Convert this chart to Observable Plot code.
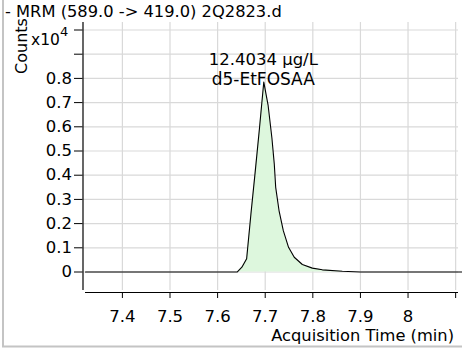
<!DOCTYPE html>
<html><head><meta charset="utf-8">
<script src="https://cdn.jsdelivr.net/npm/d3@7"></script>
<script src="https://cdn.jsdelivr.net/npm/@observablehq/plot@0.6"></script>
<style>
body{margin:0;background:#fff;}
#wrap{width:462px;height:353px;overflow:hidden;}
svg{display:block;}
</style></head><body><div id="wrap"></div>
<script>
// ---- data ----
const title = "- MRM (589.0 -> 419.0) 2Q2823.d";
const xLabel = "Acquisition Time (min)";
const yLabel = "Counts";
const yMultiplier = "x10";
const yExponent = "4";
const peakAmount = "12.4034 µg/L";
const peakName = "d5-EtFOSAA";

const times  = [7.3225, 7.62, 7.641, 7.651, 7.661, 7.670, 7.679, 7.688, 7.697, 7.706, 7.714, 7.719, 7.722, 7.729, 7.738, 7.749, 7.761, 7.778, 7.799, 7.820, 7.862, 7.90, 8.115];
const counts = [0,      0,    0,     200,   550,   2400,  4150,  5950,  7850,  6900,  5550,  4470,  3500,  2540,  1710,  1020,  610,   310,   160,   90,    30,    0,    0];

const integStart = 7.62;
const integEnd = 7.862;
const peakTime = 7.697;

const xTicks = [7.4, 7.5, 7.6, 7.7, 7.8, 7.9, 8.0, 8.1];
const xTickLabels = ["7.4", "7.5", "7.6", "7.7", "7.8", "7.9", "8", ""];
const yTicks = [0, 1000, 2000, 3000, 4000, 5000, 6000, 7000, 8000, 9000, 10000];
const yTickLabels = ["0", "0.1", "0.2", "0.3", "0.4", "0.5", "0.6", "0.7", "0.8", "", ""];

const xDomain = [7.3225, 8.106];
const yDomain = [-764, 10310];

// ---- build ----
const data = times.map((t, i) => ({t, c: counts[i]}));
const fillData = data.filter(d => d.t >= integStart && d.t <= integEnd);
const xFmt = new Map(xTicks.map((d, i) => [d, xTickLabels[i]]));
const yFmt = new Map(yTicks.map((d, i) => [d, yTickLabels[i]]));

const W = 462, H = 353;
const xRange = [85, 458], yRange = [290, 22];
const xs = d3.scaleLinear(xDomain, xRange);
const ys = d3.scaleLinear(yDomain, yRange);
const FONT = "DejaVu Sans";

const chart = Plot.plot({
  width: W, height: H,
  marginLeft: 82.5, marginRight: 4, marginTop: 22, marginBottom: 61,
  x: {domain: xDomain, range: xRange},
  y: {domain: yDomain, range: yRange},
  style: {fontFamily: FONT, fontSize: "16px", background: "#fff", color: "#000", overflow: "visible"},
  marks: [
    Plot.gridX(xTicks, {stroke: "#d9d9d9", strokeOpacity: 1, strokeWidth: 1.2, y1: yDomain[0], y2: yDomain[1]}),
    Plot.gridY(yTicks, {stroke: "#d9d9d9", strokeOpacity: 1, strokeWidth: 1.2}),
    Plot.areaY(fillData, {x: "t", y: "c", fill: "#ddf7dd"}),
    Plot.lineY(data, {x: "t", y: "c", stroke: "#000", strokeWidth: 1.1}),
    Plot.axisX(xTicks, {tickFormat: d => xFmt.get(d), tickSize: 6, tickPadding: 12, label: null, fontSize: 16.5, stroke: "#000"}),
    Plot.axisY(yTicks, {tickFormat: d => yFmt.get(d), tickSize: 8.5, tickPadding: 2.5, label: null, fontSize: 16.5, stroke: "#000"}),
    Plot.ruleX([xs.invert(82.5)], {y1: yDomain[0], y2: yDomain[1], stroke: "#000", strokeWidth: 1.2}),
    Plot.ruleY([ys.invert(292)], {x1: xDomain[0], x2: xDomain[1], stroke: "#000", strokeWidth: 1.2})
  ]
});
document.getElementById("wrap").appendChild(chart);

const svg = d3.select(chart);
// outer frame
svg.append("line").attr("x1", 3).attr("x2", 3).attr("y1", 0).attr("y2", 346.5)
  .attr("stroke", "#c4c4c4").attr("stroke-width", 2);
svg.append("line").attr("x1", 2).attr("x2", W).attr("y1", 346.5).attr("y2", 346.5)
  .attr("stroke", "#c4c4c4").attr("stroke-width", 2);

const txt = (x, y, s, size, anchor) => svg.append("text")
  .attr("x", x).attr("y", y).attr("font-family", FONT).attr("font-size", size)
  .attr("text-anchor", anchor || "start").attr("fill", "#000").text(s);

txt(5, 17.3, title, 16.3);
txt(454, 341, xLabel, 16.3, "end");
svg.append("text").attr("transform", "translate(26.5,46) rotate(-90)")
  .attr("font-family", FONT).attr("font-size", 16).attr("text-anchor", "middle").attr("fill", "#000").text(yLabel);
txt(31, 45, yMultiplier, 15.5);
txt(60, 35.5, yExponent, 13);

const px = xs(peakTime);
txt(px, 65, peakAmount, 16.5, "middle");
txt(px, 85, peakName, 17, "middle");
</script></body></html>
